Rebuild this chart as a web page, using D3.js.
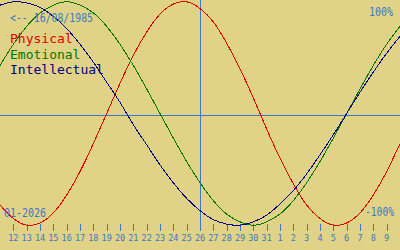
<!DOCTYPE html>
<html lang="en">
<head>
<meta charset="UTF-8">
<title>Biorhythm</title>
<script src="https://d3js.org/d3.v7.min.js"></script>
<style>
    * { margin: 0; padding: 0; box-sizing: border-box; }
    body { background: #e0d286; overflow: hidden; }
    svg { display: block; }
    text { font-family: 'DejaVu Sans Mono', monospace; }
</style>
</head>
<body>
<svg id="chart" width="400" height="250"></svg>
<script>
// day offsets from 12/01/2026 (one extra day on each side so curves reach the edges)
const days = d3.range(-1, 30);
const dayLabels = [12, 13, 14, 15, 16, 17, 18, 19, 20, 21, 22, 23, 24, 25, 26,
                   27, 28, 29, 30, 31, 1, 2, 3, 4, 5, 6, 7, 8, 9];

// cycle values, -1..1, for days -1..29
const physical = [-0.82, -0.94, -1.0, -0.98, -0.89, -0.73, -0.52, -0.27, 0.0, 0.27,
    0.52, 0.73, 0.89, 0.98, 1.0, 0.94, 0.82, 0.63, 0.4, 0.14, -0.14, -0.4, -0.63,
    -0.82, -0.94, -1.0, -0.98, -0.89, -0.73, -0.52, -0.27];
const emotional = [0.43, 0.62, 0.78, 0.9, 0.97, 1.0, 0.97, 0.9, 0.78, 0.62, 0.43,
    0.22, 0.0, -0.22, -0.43, -0.62, -0.78, -0.9, -0.97, -1.0, -0.97, -0.9, -0.78,
    -0.62, -0.43, -0.22, 0.0, 0.22, 0.43, 0.62, 0.78];
const intellectual = [0.97, 1.0, 0.99, 0.95, 0.87, 0.76, 0.62, 0.46, 0.28, 0.1,
    -0.1, -0.28, -0.46, -0.62, -0.76, -0.87, -0.95, -0.99, -1.0, -0.97, -0.91,
    -0.81, -0.69, -0.54, -0.37, -0.19, 0.0, 0.19, 0.37, 0.54, 0.69];

const seriesNames = ["Physical", "Emotional", "Intellectual"];
const seriesColors = ["#e00000", "#007800", "#000088"];
const accent = "#3c78c4";
const todayOffset = 14;

const svg = d3.select("#chart");
const W = 400, H = 250;

const x = d3.scaleLinear().domain([-1, 29]).range([0, W]);
const y = d3.scaleLinear().domain([-1, 1]).range([225.2, 1.8]);

// zero line and today marker
svg.append("line")
    .attr("x1", 0).attr("x2", W)
    .attr("y1", 115.5).attr("y2", 115.5)
    .attr("stroke", accent).attr("stroke-width", 1);

svg.append("line")
    .attr("x1", x(todayOffset) + 0.5).attr("x2", x(todayOffset) + 0.5)
    .attr("y1", 0).attr("y2", 226)
    .attr("stroke", accent).attr("stroke-width", 1);

// day axis
const axis = svg.append("g").attr("transform", "translate(0,224)");
axis.selectAll("line")
    .data(dayLabels)
    .join("line")
    .attr("x1", (d, i) => Math.round(x(i)) + 0.5)
    .attr("x2", (d, i) => Math.round(x(i)) + 0.5)
    .attr("y1", 0).attr("y2", 7)
    .attr("stroke", accent);
axis.selectAll("text")
    .data(dayLabels)
    .join("text")
    .attr("x", (d, i) => x(i))
    .attr("y", 17)
    .attr("text-anchor", "middle")
    .attr("font-size", "8.5px")
    .attr("fill", accent)
    .text(d => d);

// curves (aliased, like the original)
const line = d3.line()
    .x((d, i) => x(days[i]))
    .y(d => y(d))
    .curve(d3.curveNatural);

[physical, emotional, intellectual].forEach((vals, k) => {
    svg.append("path")
        .datum(vals)
        .attr("d", line)
        .attr("fill", "none")
        .attr("stroke", seriesColors[k])
        .attr("stroke-width", 1)
        .attr("shape-rendering", "crispEdges");
});

// texts
function label(txt, px, py, size, len, color) {
    svg.append("text")
        .attr("x", px).attr("y", py)
        .attr("font-size", size + "px")
        .attr("textLength", len)
        .attr("lengthAdjust", "spacingAndGlyphs")
        .attr("fill", color)
        .text(txt);
}

label("<-- 16/08/1985", 10, 22, 13, 83, accent);
label("100%", 369, 16, 12, 24, accent);
label("-100%", 365, 216, 12, 29, accent);
label("01-2026", 4, 216.5, 13, 42, accent);

seriesNames.forEach((name, k) => {
    svg.append("text")
        .attr("x", 10)
        .attr("y", [43, 58.5, 74][k])
        .attr("font-size", "13px")
        .attr("fill", seriesColors[k])
        .text(name);
});
</script>
</body>
</html>
